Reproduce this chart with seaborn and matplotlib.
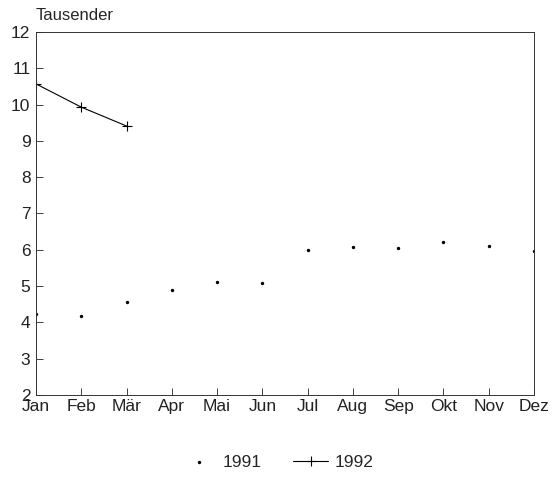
import pandas as pd
import matplotlib.pyplot as plt
import seaborn as sns

# ------------------------------
# Data (Tausender)
# ------------------------------
months = ["Jan", "Feb", "Mär", "Apr", "Mai", "Jun",
          "Jul", "Aug", "Sep", "Okt", "Nov", "Dez"]
sales_1991 = [4.22, 4.18, 4.57, 4.89, 5.12, 5.08,
              6.0, 6.08, 6.05, 6.22, 6.1, 5.96]
sales_1992 = [10.57, 9.93, 9.41]

df91 = pd.DataFrame({"x": range(len(months)), "v": sales_1991})
df92 = pd.DataFrame({"x": range(len(sales_1992)), "v": sales_1992})

sns.set_style("ticks")
plt.rcParams["font.family"] = ["Liberation Sans", "DejaVu Sans"]

fig = plt.figure(figsize=(5.53, 4.9), dpi=100)
ax = fig.add_axes([0.0651, 0.1939, 0.9005, 0.7408])

sns.scatterplot(data=df91, x="x", y="v", ax=ax, color="black", s=6,
                marker="o", linewidth=0, label="1991")
sns.lineplot(data=df92, x="x", y="v", ax=ax, color="black", lw=0.8,
             marker="+", markersize=7, markeredgewidth=0.8,
             markeredgecolor="black", label="1992")

ax.set_xlim(0, 11)
ax.set_ylim(2, 12)
ax.set_xticks(range(len(months)))
ax.set_xticklabels(months)
ax.set_yticks(range(2, 13))
ax.set_xlabel("")
ax.set_ylabel("")
ax.tick_params(direction="in", length=5, width=0.6, labelsize=12.5, pad=4,
               colors="#222222")
ax.tick_params(axis="x", pad=3)
for s in ax.spines.values():
    s.set_linewidth(0.7)
    s.set_color("#333333")

ax.text(0.0, 1.025, "Tausender", transform=ax.transAxes, fontsize=12,
        ha="left", va="bottom")

ax.legend(loc="center", bbox_to_anchor=(0.485, -0.185), ncol=2, frameon=False,
          fontsize=12.5, handlelength=2.0, handletextpad=0.4,
          columnspacing=1.8)

plt.savefig("out.png", dpi=100)
